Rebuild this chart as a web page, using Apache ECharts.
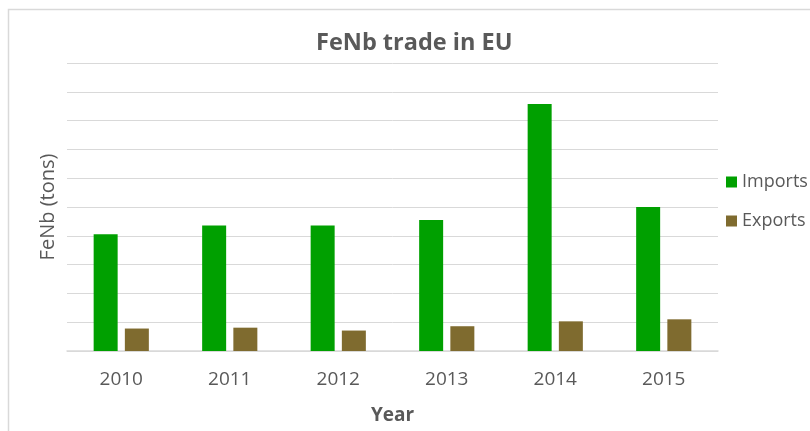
<!DOCTYPE html>
<html>
<head>
<meta charset="utf-8">
<script src="https://cdn.jsdelivr.net/npm/echarts@6/dist/echarts.min.js"></script>
<style>
  html, body { margin: 0; padding: 0; background: #fff; }
  #chart { width: 810px; height: 431px; }
</style>
</head>
<body>
<div id="chart"></div>
<script>
const years = ['2010', '2011', '2012', '2013', '2014', '2015']
const imports = [4050, 4360, 4360, 4550, 8580, 5000]
const exports = [780, 810, 710, 860, 1030, 1100]

const chart = echarts.init(document.getElementById('chart'))
const font = '"Open Sans", "Liberation Sans", sans-serif'
const textGray = '#595959'
const lineGray = '#d9d9d9'

chart.setOption({
  backgroundColor: '#fff',
  animation: false,
  title: {
    text: 'FeNb trade in EU',
    left: 316,
    top: 31,
    padding: 0,
    textStyle: { color: textGray, fontFamily: font, fontSize: 23.5, fontWeight: 'bold' },
  },
  graphic: [
    {
      type: 'rect',
      shape: { x: 8.5, y: 9.5, width: 900, height: 500 },
      style: { fill: 'none', stroke: lineGray, lineWidth: 1.5 },
    },
  ],
  legend: {
    orient: 'vertical',
    left: 726,
    top: 173,
    icon: 'rect',
    itemWidth: 11,
    itemHeight: 11,
    itemGap: 21,
    padding: 0,
    textStyle: { color: textGray, fontFamily: font, fontSize: 18 },
    data: ['Imports', 'Exports'],
  },
  grid: { left: 67, right: 92, top: 63, bottom: 80 },
  xAxis: {
    type: 'category',
    data: years,
    name: 'Year',
    nameLocation: 'middle',
    nameGap: 55,
    nameTextStyle: { color: textGray, fontFamily: font, fontSize: 19, fontWeight: 'bold' },
    axisTick: { show: false },
    axisLine: { lineStyle: { color: lineGray, width: 1.5 } },
    axisLabel: { color: textGray, fontFamily: font, fontSize: 19, margin: 19 },
  },
  yAxis: {
    type: 'value',
    min: 0,
    max: 10000,
    interval: 1000,
    name: 'FeNb (tons)',
    nameLocation: 'middle',
    nameGap: 9,
    nameTextStyle: { color: textGray, fontFamily: font, fontSize: 20 },
    axisLine: { show: false },
    axisTick: { show: false },
    axisLabel: { show: false },
    splitLine: { lineStyle: { color: lineGray, width: 1 } },
  },
  series: [
    {
      name: 'Imports', type: 'bar', data: imports,
      barWidth: 24, barGap: '30%',
      itemStyle: { color: '#00a000' },
    },
    {
      name: 'Exports', type: 'bar', data: exports,
      barWidth: 24,
      itemStyle: { color: '#7f6b2f' },
    },
  ],
})
</script>
</body>
</html>
